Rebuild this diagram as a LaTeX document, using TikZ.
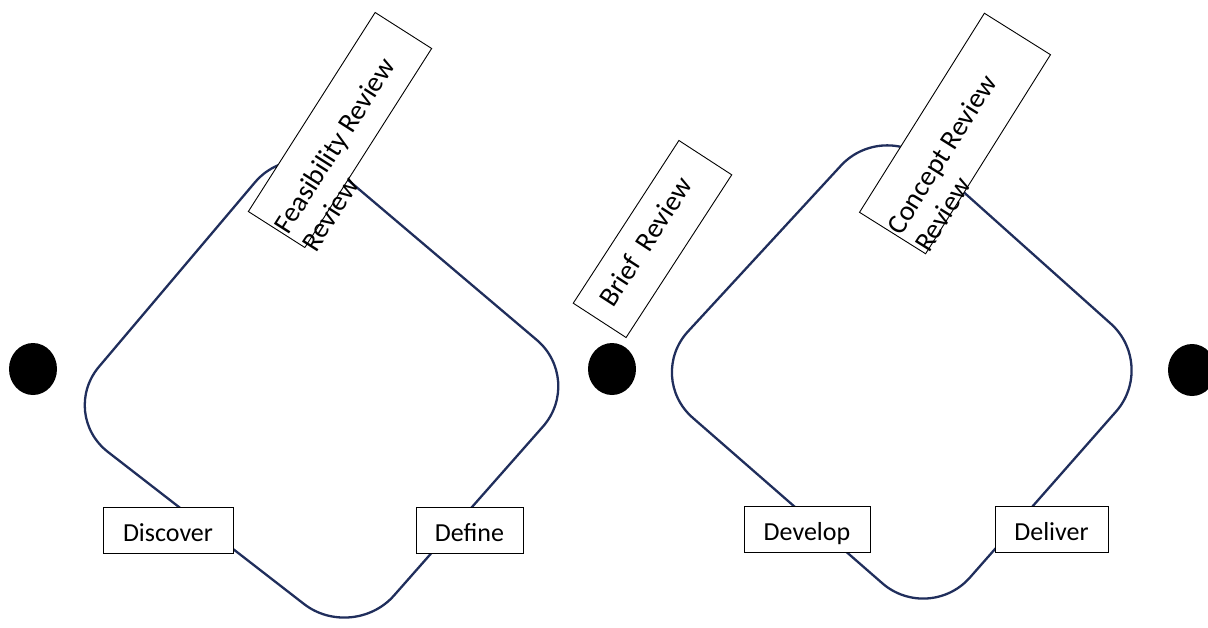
\documentclass[tikz,border=0pt]{standalone}
\usepackage{fontspec}
\setmainfont{Carlito}
\usetikzlibrary{shapes.geometric}
\definecolor{loopblue}{RGB}{32,46,92}
\begin{document}
\begin{tikzpicture}[x=1pt,y=1pt,
  loopline/.style={draw=loopblue, line width=2.3pt, rounded corners=62pt},
  stagebox/.style={draw=black, line width=0.9pt, fill=white, inner sep=0pt,
    minimum height=46pt, text height=26pt, text depth=3pt,
    font=\fontsize{26}{31}\selectfont},
  revbox/.style={draw=black, line width=0.9pt, fill=white, inner sep=0pt},
  revtext/.style={font=\fontsize{28}{33}\selectfont, align=left, inner sep=0pt},
  milestone/.style={ellipse, fill=black, inner sep=0pt,
    minimum width=48pt, minimum height=52pt}]

\useasboundingbox (0,0) rectangle (1208,-627);

% the two diamond-shaped loops
\draw[loopline] (206,-528) -- (59,-414) -- (295,-135) -- (584,-380) -- (353,-642) -- cycle;
\draw[loopline] (787.5,-500.5) -- (646,-377) -- (883,-120) -- (1157,-365) -- (929,-624) -- cycle;

% stage labels sitting on the loops
\node[stagebox, minimum width=130pt] (discover) at (168,-530) {Discover};
\node[stagebox, minimum width=107pt] (define)   at (469.5,-530) {Define};
\node[stagebox, minimum width=126pt] (develop)  at (807,-529) {Develop};
\node[stagebox, minimum width=113pt] (deliver)  at (1051.5,-529) {Deliver};

% tilted review boxes (the base anchor of a two-line text is its last line)
\begin{scope}[shift={(340,-130)}, rotate=57.5, transform shape]
  \node[revbox, minimum width=236pt, minimum height=67pt] (feas) at (0,0) {};
  \node[revtext, anchor=base west] (feastext) at (-117,-46) {Feasibility Review\\Review};
\end{scope}

\begin{scope}[shift={(652.5,-239)}, rotate=57, transform shape]
  \node[revbox, minimum width=194pt, minimum height=63pt] (brief) at (0,0) {};
  \node[revtext, anchor=base] (brieftext) at (-6,-5) {Brief\ \ Review};
\end{scope}

\begin{scope}[shift={(955,-133.5)}, rotate=57.9, transform shape]
  \node[revbox, minimum width=235pt, minimum height=78pt] (concept) at (0,0) {};
  \node[revtext, anchor=base west] (concepttext) at (-116,-42) {Concept Review\\Review};
\end{scope}

% milestone dots
\node[milestone] (m1) at (33,-369) {};
\node[milestone] (m2) at (612,-369) {};
\node[milestone] (m3) at (1192,-370) {};
\end{tikzpicture}
\end{document}
